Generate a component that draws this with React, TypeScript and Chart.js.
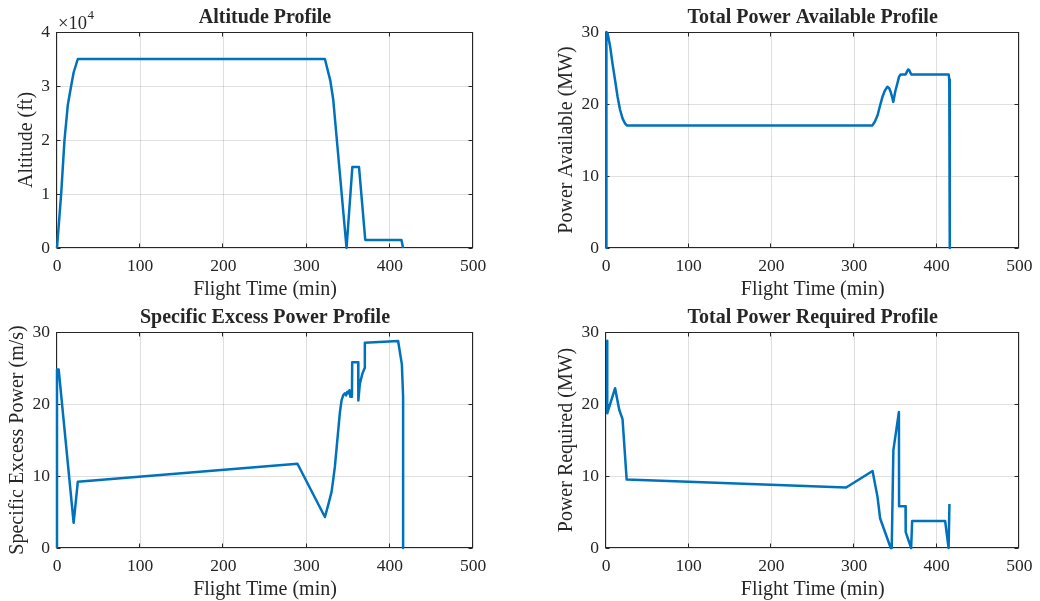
import React, { useEffect, useRef } from "react";
import { Chart, registerables } from "chart.js";

Chart.register(...registerables);

const FONT = '"Liberation Serif", "Times New Roman", serif';
const TEXT = "#262626";
const LINE = "#0072BD";
const GRID = "rgba(38,38,38,0.15)";

// Shared x axis (flight time, min)
const xMin = 0;
const xMax = 500;
const xStep = 100;

// Altitude profile (ft)
const altTime = [0, 5, 9, 13, 17, 20, 25, 322, 328.5, 332, 348, 355, 363, 370.5, 414, 416];
const altFt = [0, 10000, 20000, 26500, 30000, 32500, 35000, 35000, 31000, 27500, 0, 15000, 15000, 1500, 1500, 0];

// Total power available (MW)
const pavTime = [0, 0.5, 2, 5, 8, 11, 14, 17, 20, 23, 25.5, 322, 325, 328.4, 331.5, 334.4, 337.5, 340.4, 342.5, 344.3, 346, 347.5, 350, 352.3, 354.5, 356.3, 362.3, 364, 365.5, 366.8, 368.3, 369.5, 414.5, 415.2, 415.6, 416];
const pavMW = [0, 30, 29.8, 28, 25.5, 23.3, 21, 19.2, 18, 17.3, 17.0, 17.0, 17.5, 18.4, 19.8, 21.0, 21.9, 22.4, 22.2, 21.7, 21.0, 20.3, 21.8, 22.8, 23.8, 24.1, 24.1, 24.5, 24.8, 24.7, 24.3, 24.1, 24.1, 23.4, 21, 0];

// Specific excess power (m/s)
const sepTime = [0, 0, 2, 20, 25, 289, 322, 326, 330, 332, 334, 336, 338, 340, 342, 344, 346, 347.5, 349, 350.5, 351.5, 352.5, 354.5, 354.8, 362, 362.2, 364, 367, 369.8, 370, 410, 414.5, 415.5, 416, 416];
const sepVal = [0, 24.8, 24.8, 3.5, 9.2, 11.7, 4.3, 6.0, 7.8, 9.5, 11.3, 13.8, 16.3, 18.8, 20.5, 21.2, 21.5, 21.2, 21.7, 21.5, 21.9, 21.0, 21.0, 25.8, 25.8, 20.5, 22.8, 24.2, 25.0, 28.5, 28.75, 25.5, 22.5, 21, 0];

// Total power required (MW)
const preqTime = [1.5, 1.5, 11, 16, 20, 25, 290.5, 322.4, 328.4, 331.6, 344.4, 345.6, 347.6, 354.3, 354.5, 362.3, 362.5, 369.1, 370.3, 410.2, 414.4, 415.4];
const preqMW = [28.8, 18.7, 22.2, 19.2, 17.9, 9.5, 8.4, 10.7, 7.1, 4.1, 0, 0, 13.6, 18.9, 5.8, 5.8, 2.2, 0, 3.75, 3.75, 0, 6.1];

type Area = { l: number; t: number; r: number; b: number };

type PanelProps = {
  left: number;
  top: number;
  width: number;
  height: number;
  area: Area;
  xs: number[];
  ys: number[];
  yMax: number;
  yStep: number;
  yFmt?: (v: number) => string;
  title: string;
  xLabel: string;
  yLabel: string;
  yLabelX: number;
  exponent?: string;
};

function Panel(p: PanelProps) {
  const ref = useRef<HTMLCanvasElement>(null);

  useEffect(() => {
    const canvas = ref.current;
    if (!canvas) return;
    const pts = p.xs.map((x, i) => ({ x, y: p.ys[i] }));

    const decor = {
      id: "decor",
      beforeDatasetsDraw(chart: any) {
        const { ctx, chartArea: a, scales } = chart;
        ctx.save();
        ctx.strokeStyle = TEXT;
        ctx.lineWidth = 1;
        const L = Math.round(a.left) - 0.5;
        const R = Math.round(a.right) - 0.5;
        const T = Math.round(a.top) + 0.5;
        const B = Math.round(a.bottom) - 0.5;
        ctx.strokeRect(L, T, R - L, B - T);
        const tl = 4;
        ctx.beginPath();
        for (let v = xMin; v <= xMax; v += xStep) {
          const x = Math.round(scales.x.getPixelForValue(v)) - 0.5;
          ctx.moveTo(x, B);
          ctx.lineTo(x, B - tl);
          ctx.moveTo(x, T);
          ctx.lineTo(x, T + tl);
        }
        for (let v = 0; v <= p.yMax; v += p.yStep) {
          const y = Math.round(scales.y.getPixelForValue(v)) + 0.5;
          ctx.moveTo(L, y);
          ctx.lineTo(L + tl, y);
          ctx.moveTo(R, y);
          ctx.lineTo(R - tl, y);
        }
        ctx.stroke();
        ctx.restore();
      },
      afterDraw(chart: any) {
        const { ctx, chartArea: a } = chart;
        ctx.save();
        ctx.fillStyle = TEXT;
        ctx.textAlign = "center";
        ctx.textBaseline = "middle";
        ctx.font = `bold 20px ${FONT}`;
        ctx.fillText(p.title, (a.left + a.right) / 2, a.top - 14.5);
        ctx.font = `20px ${FONT}`;
        ctx.fillText(p.xLabel, (a.left + a.right) / 2, a.bottom + 41.5);
        ctx.save();
        ctx.translate(p.yLabelX, (a.top + a.bottom) / 2);
        ctx.rotate(-Math.PI / 2);
        ctx.fillText(p.yLabel, 0, 0);
        ctx.restore();
        if (p.exponent) {
          ctx.textAlign = "left";
          ctx.textBaseline = "alphabetic";
          ctx.font = `18.5px ${FONT}`;
          const base = "\u00d710";
          ctx.fillText(base, a.left + 1, a.top - 3.5);
          const w = ctx.measureText(base).width;
          ctx.font = `13px ${FONT}`;
          ctx.fillText(p.exponent, a.left + 1 + w + 0.5, a.top - 13.5);
        }
        ctx.restore();
      },
    };

    const tickFont = { family: FONT, size: 17.5 };

    const chart = new Chart(canvas, {
      type: "line",
      data: {
        datasets: [
          {
            data: pts,
            borderColor: LINE,
            borderWidth: 2.5,
            borderJoinStyle: "round",
            pointRadius: 0,
            pointHoverRadius: 0,
            tension: 0,
            fill: false,
            clip: false as any,
          },
        ],
      },
      options: {
        animation: false,
        responsive: false,
        devicePixelRatio: 1,
        layout: {
          padding: { left: 0, top: p.area.t, right: p.width - p.area.r, bottom: 0 },
        },
        plugins: {
          legend: { display: false },
          tooltip: { enabled: false },
          title: { display: false },
        },
        events: [],
        scales: {
          x: {
            type: "linear",
            min: xMin,
            max: xMax,
            ticks: {
              stepSize: xStep,
              color: TEXT,
              font: tickFont,
              padding: 7.5,
              maxRotation: 0,
              autoSkip: false,
            },
            grid: { color: GRID, lineWidth: 1, drawTicks: false },
            border: { display: false },
            afterFit: (s: any) => {
              s.height = p.height - p.area.b;
            },
          },
          y: {
            type: "linear",
            min: 0,
            max: p.yMax,
            ticks: {
              stepSize: p.yStep,
              color: TEXT,
              font: tickFont,
              padding: 7,
              callback: (v: any) => (p.yFmt ? p.yFmt(Number(v)) : String(v)),
            },
            grid: { color: GRID, lineWidth: 1, drawTicks: false },
            border: { display: false },
            afterFit: (s: any) => {
              s.width = p.area.l;
            },
          },
        },
      },
      plugins: [decor],
    });

    return () => chart.destroy();
  }, []);

  return (
    <canvas
      ref={ref}
      width={p.width}
      height={p.height}
      style={{ position: "absolute", left: p.left, top: p.top, width: p.width, height: p.height }}
    />
  );
}

export default function App() {
  useEffect(() => {
    document.body.style.margin = "0";
    document.body.style.background = "#ffffff";
  }, []);

  return (
    <div style={{ position: "relative", width: 1040, height: 601, background: "#ffffff", overflow: "hidden" }}>
      <Panel
        left={0}
        top={0}
        width={520}
        height={300}
        area={{ l: 57, t: 32, r: 473, b: 248 }}
        xs={altTime}
        ys={altFt}
        yMax={40000}
        yStep={10000}
        yFmt={(v) => String(v / 10000)}
        title="Altitude Profile"
        xLabel="Flight Time (min)"
        yLabel="Altitude (ft)"
        yLabelX={27}
        exponent="4"
      />
      <Panel
        left={520}
        top={0}
        width={520}
        height={300}
        area={{ l: 86, t: 32, r: 503, b: 248 }}
        xs={pavTime}
        ys={pavMW}
        yMax={30}
        yStep={10}
        title="Total Power Available Profile"
        xLabel="Flight Time (min)"
        yLabel="Power Available (MW)"
        yLabelX={46.7}
      />
      <Panel
        left={0}
        top={300}
        width={520}
        height={301}
        area={{ l: 57, t: 32, r: 473, b: 248 }}
        xs={sepTime}
        ys={sepVal}
        yMax={30}
        yStep={10}
        title="Specific Excess Power Profile"
        xLabel="Flight Time (min)"
        yLabel="Specific Excess Power (m/s)"
        yLabelX={17.3}
      />
      <Panel
        left={520}
        top={300}
        width={520}
        height={301}
        area={{ l: 86, t: 32, r: 503, b: 248 }}
        xs={preqTime}
        ys={preqMW}
        yMax={30}
        yStep={10}
        title="Total Power Required Profile"
        xLabel="Flight Time (min)"
        yLabel="Power Required (MW)"
        yLabelX={46.7}
      />
    </div>
  );
}
